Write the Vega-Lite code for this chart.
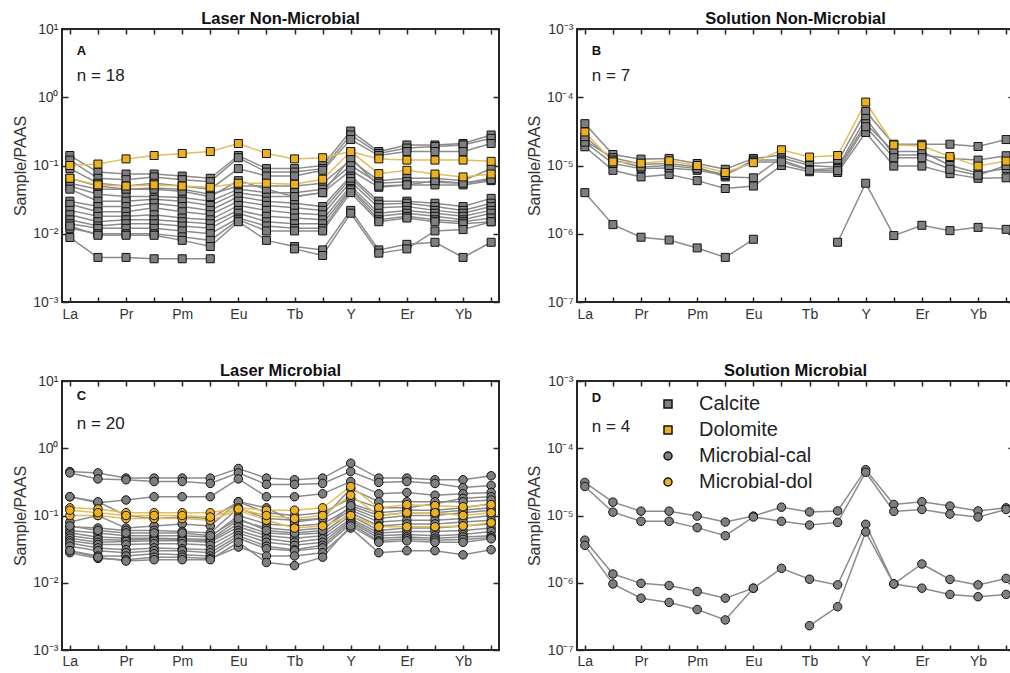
{
"$schema": "https://vega.github.io/schema/vega-lite/v6.json",
"padding": {"left": 11, "top": 9, "right": 0, "bottom": 0},
"spacing": {"row": 39, "column": 24},
"resolve": {"legend": {"fill": "independent", "shape": "independent"}},
"config": {
  "font": "Liberation Sans",
  "view": {"stroke": "#262626", "strokeWidth": 2},
  "axis": {"grid": false, "domain": false, "tickColor": "#262626", "tickWidth": 1.5, "labelFontSize": 14, "labelColor": "#333333", "titleFontSize": 16, "titleFontWeight": "normal", "titleColor": "#333333"},
  "title": {"fontSize": 16.5, "fontWeight": "bold", "offset": -5, "color": "#111111"},
  "legend": {"labelFontSize": 20, "labelColor": "#222222", "symbolSize": 64, "rowPadding": 6, "labelOffset": 21}
},
"datasets": {
"series": [
{"s":"a1","p":"A","m":"Calcite"},{"s":"a2","p":"A","m":"Calcite"},{"s":"a3","p":"A","m":"Calcite"},{"s":"a4","p":"A","m":"Calcite"},{"s":"a5","p":"A","m":"Calcite"},{"s":"a6","p":"A","m":"Calcite"},{"s":"a7","p":"A","m":"Calcite"},{"s":"a8","p":"A","m":"Calcite"},{"s":"a9","p":"A","m":"Calcite"},{"s":"a10","p":"A","m":"Calcite"},{"s":"a11","p":"A","m":"Calcite"},{"s":"a12","p":"A","m":"Calcite"},{"s":"a13","p":"A","m":"Calcite"},{"s":"a14","p":"A","m":"Calcite"},{"s":"a15","p":"A","m":"Calcite"},{"s":"a16","p":"A","m":"Calcite"},{"s":"ad1","p":"A","m":"Dolomite"},{"s":"ad2","p":"A","m":"Dolomite"},
{"s":"b1","p":"B","m":"Calcite"},{"s":"b2","p":"B","m":"Calcite"},{"s":"b3","p":"B","m":"Calcite"},{"s":"b4","p":"B","m":"Calcite"},{"s":"b5","p":"B","m":"Calcite"},{"s":"b6","p":"B","m":"Calcite"},{"s":"bd1","p":"B","m":"Dolomite"},
{"s":"c1","p":"C","m":"Microbial-cal"},{"s":"c2","p":"C","m":"Microbial-cal"},{"s":"c3","p":"C","m":"Microbial-cal"},{"s":"c4","p":"C","m":"Microbial-cal"},{"s":"c5","p":"C","m":"Microbial-cal"},{"s":"c6","p":"C","m":"Microbial-cal"},{"s":"c7","p":"C","m":"Microbial-cal"},{"s":"c8","p":"C","m":"Microbial-cal"},{"s":"c9","p":"C","m":"Microbial-cal"},{"s":"c10","p":"C","m":"Microbial-cal"},{"s":"c11","p":"C","m":"Microbial-cal"},{"s":"c12","p":"C","m":"Microbial-cal"},{"s":"c13","p":"C","m":"Microbial-cal"},{"s":"c14","p":"C","m":"Microbial-cal"},{"s":"c15","p":"C","m":"Microbial-cal"},{"s":"c16","p":"C","m":"Microbial-cal"},{"s":"c17","p":"C","m":"Microbial-cal"},{"s":"cd1","p":"C","m":"Microbial-dol"},{"s":"cd2","p":"C","m":"Microbial-dol"},{"s":"cd3","p":"C","m":"Microbial-dol"},
{"s":"d1","p":"D","m":"Microbial-cal"},{"s":"d2","p":"D","m":"Microbial-cal"},{"s":"d3","p":"D","m":"Microbial-cal"},{"s":"d4","p":"D","m":"Microbial-cal"}
],
"pts": [
{"s":"a1","e":"La","v":0.14},{"s":"a1","e":"Ce","v":0.08},{"s":"a1","e":"Pr","v":0.075},{"s":"a1","e":"Nd","v":0.075},{"s":"a1","e":"Pm","v":0.07},{"s":"a1","e":"Sm","v":0.065},{"s":"a1","e":"Eu","v":0.14},{"s":"a1","e":"Gd","v":0.09},{"s":"a1","e":"Tb","v":0.09},{"s":"a1","e":"Dy","v":0.1},{"s":"a1","e":"Y","v":0.32},{"s":"a1","e":"Ho","v":0.16},{"s":"a1","e":"Er","v":0.2},{"s":"a1","e":"Tm","v":0.2},{"s":"a1","e":"Yb","v":0.21},{"s":"a1","e":"Lu","v":0.28},
{"s":"a2","e":"La","v":0.12},{"s":"a2","e":"Ce","v":0.065},{"s":"a2","e":"Pr","v":0.062},{"s":"a2","e":"Nd","v":0.068},{"s":"a2","e":"Pm","v":0.062},{"s":"a2","e":"Sm","v":0.058},{"s":"a2","e":"Eu","v":0.13},{"s":"a2","e":"Gd","v":0.08},{"s":"a2","e":"Tb","v":0.08},{"s":"a2","e":"Dy","v":0.09},{"s":"a2","e":"Y","v":0.28},{"s":"a2","e":"Ho","v":0.15},{"s":"a2","e":"Er","v":0.18},{"s":"a2","e":"Tm","v":0.19},{"s":"a2","e":"Yb","v":0.2},{"s":"a2","e":"Lu","v":0.25},
{"s":"a3","e":"La","v":0.09},{"s":"a3","e":"Ce","v":0.055},{"s":"a3","e":"Pr","v":0.05},{"s":"a3","e":"Nd","v":0.055},{"s":"a3","e":"Pm","v":0.05},{"s":"a3","e":"Sm","v":0.045},{"s":"a3","e":"Eu","v":0.09},{"s":"a3","e":"Gd","v":0.07},{"s":"a3","e":"Tb","v":0.07},{"s":"a3","e":"Dy","v":0.085},{"s":"a3","e":"Y","v":0.24},{"s":"a3","e":"Ho","v":0.14},{"s":"a3","e":"Er","v":0.16},{"s":"a3","e":"Tm","v":0.16},{"s":"a3","e":"Yb","v":0.16},{"s":"a3","e":"Lu","v":0.21},
{"s":"a4","e":"La","v":0.055},{"s":"a4","e":"Ce","v":0.045},{"s":"a4","e":"Pr","v":0.045},{"s":"a4","e":"Nd","v":0.047},{"s":"a4","e":"Pm","v":0.045},{"s":"a4","e":"Sm","v":0.038},{"s":"a4","e":"Eu","v":0.05},{"s":"a4","e":"Gd","v":0.05},{"s":"a4","e":"Tb","v":0.05},{"s":"a4","e":"Dy","v":0.055},{"s":"a4","e":"Y","v":0.12},{"s":"a4","e":"Ho","v":0.06},{"s":"a4","e":"Er","v":0.065},{"s":"a4","e":"Tm","v":0.065},{"s":"a4","e":"Yb","v":0.06},{"s":"a4","e":"Lu","v":0.09},
{"s":"a5","e":"La","v":0.05},{"s":"a5","e":"Ce","v":0.038},{"s":"a5","e":"Pr","v":0.035},{"s":"a5","e":"Nd","v":0.035},{"s":"a5","e":"Pm","v":0.034},{"s":"a5","e":"Sm","v":0.03},{"s":"a5","e":"Eu","v":0.045},{"s":"a5","e":"Gd","v":0.04},{"s":"a5","e":"Tb","v":0.04},{"s":"a5","e":"Dy","v":0.045},{"s":"a5","e":"Y","v":0.1},{"s":"a5","e":"Ho","v":0.055},{"s":"a5","e":"Er","v":0.058},{"s":"a5","e":"Tm","v":0.057},{"s":"a5","e":"Yb","v":0.055},{"s":"a5","e":"Lu","v":0.065},
{"s":"a6","e":"La","v":0.045},{"s":"a6","e":"Ce","v":0.03},{"s":"a6","e":"Pr","v":0.03},{"s":"a6","e":"Nd","v":0.032},{"s":"a6","e":"Pm","v":0.03},{"s":"a6","e":"Sm","v":0.026},{"s":"a6","e":"Eu","v":0.04},{"s":"a6","e":"Gd","v":0.035},{"s":"a6","e":"Tb","v":0.035},{"s":"a6","e":"Dy","v":0.04},{"s":"a6","e":"Y","v":0.085},{"s":"a6","e":"Ho","v":0.048},{"s":"a6","e":"Er","v":0.052},{"s":"a6","e":"Tm","v":0.052},{"s":"a6","e":"Yb","v":0.052},{"s":"a6","e":"Lu","v":0.06},
{"s":"a7","e":"La","v":0.03},{"s":"a7","e":"Ce","v":0.025},{"s":"a7","e":"Pr","v":0.025},{"s":"a7","e":"Nd","v":0.028},{"s":"a7","e":"Pm","v":0.025},{"s":"a7","e":"Sm","v":0.022},{"s":"a7","e":"Eu","v":0.035},{"s":"a7","e":"Gd","v":0.03},{"s":"a7","e":"Tb","v":0.028},{"s":"a7","e":"Dy","v":0.025},{"s":"a7","e":"Y","v":0.07},{"s":"a7","e":"Ho","v":0.03},{"s":"a7","e":"Er","v":0.03},{"s":"a7","e":"Tm","v":0.028},{"s":"a7","e":"Yb","v":0.025},{"s":"a7","e":"Lu","v":0.033},
{"s":"a8","e":"La","v":0.027},{"s":"a8","e":"Ce","v":0.021},{"s":"a8","e":"Pr","v":0.021},{"s":"a8","e":"Nd","v":0.024},{"s":"a8","e":"Pm","v":0.021},{"s":"a8","e":"Sm","v":0.019},{"s":"a8","e":"Eu","v":0.03},{"s":"a8","e":"Gd","v":0.026},{"s":"a8","e":"Tb","v":0.024},{"s":"a8","e":"Dy","v":0.022},{"s":"a8","e":"Y","v":0.065},{"s":"a8","e":"Ho","v":0.027},{"s":"a8","e":"Er","v":0.028},{"s":"a8","e":"Tm","v":0.025},{"s":"a8","e":"Yb","v":0.022},{"s":"a8","e":"Lu","v":0.028},
{"s":"a9","e":"La","v":0.022},{"s":"a9","e":"Ce","v":0.018},{"s":"a9","e":"Pr","v":0.018},{"s":"a9","e":"Nd","v":0.019},{"s":"a9","e":"Pm","v":0.017},{"s":"a9","e":"Sm","v":0.016},{"s":"a9","e":"Eu","v":0.026},{"s":"a9","e":"Gd","v":0.022},{"s":"a9","e":"Tb","v":0.02},{"s":"a9","e":"Dy","v":0.019},{"s":"a9","e":"Y","v":0.058},{"s":"a9","e":"Ho","v":0.024},{"s":"a9","e":"Er","v":0.025},{"s":"a9","e":"Tm","v":0.022},{"s":"a9","e":"Yb","v":0.02},{"s":"a9","e":"Lu","v":0.025},
{"s":"a10","e":"La","v":0.019},{"s":"a10","e":"Ce","v":0.015},{"s":"a10","e":"Pr","v":0.016},{"s":"a10","e":"Nd","v":0.016},{"s":"a10","e":"Pm","v":0.015},{"s":"a10","e":"Sm","v":0.014},{"s":"a10","e":"Eu","v":0.022},{"s":"a10","e":"Gd","v":0.018},{"s":"a10","e":"Tb","v":0.017},{"s":"a10","e":"Dy","v":0.016},{"s":"a10","e":"Y","v":0.05},{"s":"a10","e":"Ho","v":0.02},{"s":"a10","e":"Er","v":0.022},{"s":"a10","e":"Tm","v":0.02},{"s":"a10","e":"Yb","v":0.018},{"s":"a10","e":"Lu","v":0.022},
{"s":"a11","e":"La","v":0.016},{"s":"a11","e":"Ce","v":0.013},{"s":"a11","e":"Pr","v":0.014},{"s":"a11","e":"Nd","v":0.014},{"s":"a11","e":"Pm","v":0.013},{"s":"a11","e":"Sm","v":0.012},{"s":"a11","e":"Eu","v":0.02},{"s":"a11","e":"Gd","v":0.015},{"s":"a11","e":"Tb","v":0.014},{"s":"a11","e":"Dy","v":0.014},{"s":"a11","e":"Y","v":0.046},{"s":"a11","e":"Ho","v":0.018},{"s":"a11","e":"Er","v":0.02},{"s":"a11","e":"Tm","v":0.018},{"s":"a11","e":"Yb","v":0.016},{"s":"a11","e":"Lu","v":0.02},
{"s":"a12","e":"La","v":0.014},{"s":"a12","e":"Ce","v":0.012},{"s":"a12","e":"Pr","v":0.012},{"s":"a12","e":"Nd","v":0.012},{"s":"a12","e":"Pm","v":0.011},{"s":"a12","e":"Sm","v":0.01},{"s":"a12","e":"Eu","v":0.017},{"s":"a12","e":"Gd","v":0.013},{"s":"a12","e":"Tb","v":0.012},{"s":"a12","e":"Dy","v":0.012},{"s":"a12","e":"Y","v":0.044},{"s":"a12","e":"Ho","v":0.016},{"s":"a12","e":"Er","v":0.018},{"s":"a12","e":"Tm","v":0.016},{"s":"a12","e":"Yb","v":0.015},{"s":"a12","e":"Lu","v":0.017},
{"s":"a13","e":"La","v":0.012},{"s":"a13","e":"Ce","v":0.01},{"s":"a13","e":"Pr","v":0.01},{"s":"a13","e":"Nd","v":0.01},{"s":"a13","e":"Pm","v":0.009},{"s":"a13","e":"Sm","v":0.008},{"s":"a13","e":"Eu","v":0.016},{"s":"a13","e":"Gd","v":0.011},{"s":"a13","e":"Tb","v":0.011},{"s":"a13","e":"Dy","v":0.011},{"s":"a13","e":"Y","v":0.04},{"s":"a13","e":"Ho","v":0.015},{"s":"a13","e":"Er","v":0.017},{"s":"a13","e":"Tm","v":0.015},{"s":"a13","e":"Yb","v":0.014},{"s":"a13","e":"Lu","v":0.015},
{"s":"a14","e":"La","v":0.013},{"s":"a14","e":"Ce","v":0.0095},{"s":"a14","e":"Pr","v":0.0095},{"s":"a14","e":"Nd","v":0.0095},{"s":"a14","e":"Pm","v":0.008},{"s":"a14","e":"Sm","v":0.0065},{"s":"a14","e":"Eu","v":0.015},{"s":"a14","e":"Gd","v":0.008},{"s":"a14","e":"Tb","v":0.0065},{"s":"a14","e":"Dy","v":0.0058},{"s":"a14","e":"Y","v":0.022},{"s":"a14","e":"Ho","v":0.0058},{"s":"a14","e":"Er","v":0.007},{"s":"a14","e":"Tm","v":0.0075},{"s":"a14","e":"Yb","v":0.0045},{"s":"a14","e":"Lu","v":0.0075},
{"s":"a15","e":"La","v":0.0088},{"s":"a15","e":"Ce","v":0.0045},{"s":"a15","e":"Pr","v":0.0045},{"s":"a15","e":"Nd","v":0.0043},{"s":"a15","e":"Pm","v":0.0043},{"s":"a15","e":"Sm","v":0.0043},{"s":"a15","e":"Eu","v":null},{"s":"a15","e":"Gd","v":null},{"s":"a15","e":"Tb","v":0.006},{"s":"a15","e":"Dy","v":0.0048},{"s":"a15","e":"Y","v":0.02},{"s":"a15","e":"Ho","v":0.0052},{"s":"a15","e":"Er","v":0.006},{"s":"a15","e":"Tm","v":0.011},{"s":"a15","e":"Yb","v":0.0115},{"s":"a15","e":"Lu","v":0.015},
{"s":"a16","e":"La","v":0.065},{"s":"a16","e":"Ce","v":0.05},{"s":"a16","e":"Pr","v":0.045},{"s":"a16","e":"Nd","v":0.045},{"s":"a16","e":"Pm","v":0.042},{"s":"a16","e":"Sm","v":0.035},{"s":"a16","e":"Eu","v":0.06},{"s":"a16","e":"Gd","v":0.045},{"s":"a16","e":"Tb","v":0.035},{"s":"a16","e":"Dy","v":0.04},{"s":"a16","e":"Y","v":0.13},{"s":"a16","e":"Ho","v":0.05},{"s":"a16","e":"Er","v":0.052},{"s":"a16","e":"Tm","v":0.06},{"s":"a16","e":"Yb","v":0.055},{"s":"a16","e":"Lu","v":0.062},
{"s":"ad1","e":"La","v":0.1},{"s":"ad1","e":"Ce","v":0.105},{"s":"ad1","e":"Pr","v":0.125},{"s":"ad1","e":"Nd","v":0.14},{"s":"ad1","e":"Pm","v":0.15},{"s":"ad1","e":"Sm","v":0.16},{"s":"ad1","e":"Eu","v":0.21},{"s":"ad1","e":"Gd","v":0.15},{"s":"ad1","e":"Tb","v":0.125},{"s":"ad1","e":"Dy","v":0.13},{"s":"ad1","e":"Y","v":0.16},{"s":"ad1","e":"Ho","v":0.125},{"s":"ad1","e":"Er","v":0.12},{"s":"ad1","e":"Tm","v":0.12},{"s":"ad1","e":"Yb","v":0.12},{"s":"ad1","e":"Lu","v":0.115},
{"s":"ad2","e":"La","v":0.065},{"s":"ad2","e":"Ce","v":0.052},{"s":"ad2","e":"Pr","v":0.05},{"s":"ad2","e":"Nd","v":0.052},{"s":"ad2","e":"Pm","v":0.05},{"s":"ad2","e":"Sm","v":0.048},{"s":"ad2","e":"Eu","v":0.055},{"s":"ad2","e":"Gd","v":0.055},{"s":"ad2","e":"Tb","v":0.053},{"s":"ad2","e":"Dy","v":0.063},{"s":"ad2","e":"Y","v":0.16},{"s":"ad2","e":"Ho","v":0.076},{"s":"ad2","e":"Er","v":0.085},{"s":"ad2","e":"Tm","v":0.075},{"s":"ad2","e":"Yb","v":0.068},{"s":"ad2","e":"Lu","v":0.075},
{"s":"b1","e":"La","v":4.1e-5},{"s":"b1","e":"Ce","v":1.45e-5},{"s":"b1","e":"Pr","v":1.24e-5},{"s":"b1","e":"Nd","v":1.27e-5},{"s":"b1","e":"Pm","v":1.07e-5},{"s":"b1","e":"Sm","v":8.8e-6},{"s":"b1","e":"Eu","v":1.27e-5},{"s":"b1","e":"Gd","v":1.42e-5},{"s":"b1","e":"Tb","v":1.07e-5},{"s":"b1","e":"Dy","v":1.13e-5},{"s":"b1","e":"Y","v":6.2e-5},{"s":"b1","e":"Ho","v":2.05e-5},{"s":"b1","e":"Er","v":2.05e-5},{"s":"b1","e":"Tm","v":2.05e-5},{"s":"b1","e":"Yb","v":1.9e-5},{"s":"b1","e":"Lu","v":2.4e-5},
{"s":"b2","e":"La","v":2.3e-5},{"s":"b2","e":"Ce","v":1.3e-5},{"s":"b2","e":"Pr","v":1.04e-5},{"s":"b2","e":"Nd","v":1.07e-5},{"s":"b2","e":"Pm","v":9.5e-6},{"s":"b2","e":"Sm","v":6.8e-6},{"s":"b2","e":"Eu","v":6.6e-6},{"s":"b2","e":"Gd","v":1.3e-5},{"s":"b2","e":"Tb","v":1e-5},{"s":"b2","e":"Dy","v":9.4e-6},{"s":"b2","e":"Y","v":4.9e-5},{"s":"b2","e":"Ho","v":1.42e-5},{"s":"b2","e":"Er","v":1.42e-5},{"s":"b2","e":"Tm","v":1.27e-5},{"s":"b2","e":"Yb","v":1.2e-5},{"s":"b2","e":"Lu","v":1.39e-5},
{"s":"b3","e":"La","v":1.88e-5},{"s":"b3","e":"Ce","v":8.5e-6},{"s":"b3","e":"Pr","v":6.8e-6},{"s":"b3","e":"Nd","v":7.4e-6},{"s":"b3","e":"Pm","v":6e-6},{"s":"b3","e":"Sm","v":4.6e-6},{"s":"b3","e":"Eu","v":5e-6},{"s":"b3","e":"Gd","v":1e-5},{"s":"b3","e":"Tb","v":8.1e-6},{"s":"b3","e":"Dy","v":7.9e-6},{"s":"b3","e":"Y","v":3.05e-5},{"s":"b3","e":"Ho","v":9.8e-6},{"s":"b3","e":"Er","v":9.8e-6},{"s":"b3","e":"Tm","v":7.6e-6},{"s":"b3","e":"Yb","v":6.5e-6},{"s":"b3","e":"Lu","v":6.6e-6},
{"s":"b4","e":"La","v":2.2e-5},{"s":"b4","e":"Ce","v":1.07e-5},{"s":"b4","e":"Pr","v":9e-6},{"s":"b4","e":"Nd","v":9.2e-6},{"s":"b4","e":"Pm","v":8.5e-6},{"s":"b4","e":"Sm","v":7.2e-6},{"s":"b4","e":"Eu","v":1.2e-5},{"s":"b4","e":"Gd","v":1.2e-5},{"s":"b4","e":"Tb","v":8.7e-6},{"s":"b4","e":"Dy","v":9e-6},{"s":"b4","e":"Y","v":4.1e-5},{"s":"b4","e":"Ho","v":1.6e-5},{"s":"b4","e":"Er","v":1.6e-5},{"s":"b4","e":"Tm","v":1e-5},{"s":"b4","e":"Yb","v":7.8e-6},{"s":"b4","e":"Lu","v":9e-6},
{"s":"b5","e":"La","v":2.64e-5},{"s":"b5","e":"Ce","v":1.2e-5},{"s":"b5","e":"Pr","v":9.5e-6},{"s":"b5","e":"Nd","v":1e-5},{"s":"b5","e":"Pm","v":9e-6},{"s":"b5","e":"Sm","v":7.4e-6},{"s":"b5","e":"Eu","v":1.13e-5},{"s":"b5","e":"Gd","v":1.13e-5},{"s":"b5","e":"Tb","v":8.5e-6},{"s":"b5","e":"Dy","v":8.4e-6},{"s":"b5","e":"Y","v":3.7e-5},{"s":"b5","e":"Ho","v":1.3e-5},{"s":"b5","e":"Er","v":1.3e-5},{"s":"b5","e":"Tm","v":8.8e-6},{"s":"b5","e":"Yb","v":7.2e-6},{"s":"b5","e":"Lu","v":1e-5},
{"s":"b6","e":"La","v":4e-6},{"s":"b6","e":"Ce","v":1.36e-6},{"s":"b6","e":"Pr","v":8.9e-7},{"s":"b6","e":"Nd","v":8.1e-7},{"s":"b6","e":"Pm","v":6.2e-7},{"s":"b6","e":"Sm","v":4.5e-7},{"s":"b6","e":"Eu","v":8.3e-7},{"s":"b6","e":"Gd","v":null},{"s":"b6","e":"Tb","v":null},{"s":"b6","e":"Dy","v":7.5e-7},{"s":"b6","e":"Y","v":5.5e-6},{"s":"b6","e":"Ho","v":9.4e-7},{"s":"b6","e":"Er","v":1.33e-6},{"s":"b6","e":"Tm","v":1.11e-6},{"s":"b6","e":"Yb","v":1.24e-6},{"s":"b6","e":"Lu","v":1.16e-6},
{"s":"bd1","e":"La","v":3.1e-5},{"s":"bd1","e":"Ce","v":1.13e-5},{"s":"bd1","e":"Pr","v":1.08e-5},{"s":"bd1","e":"Nd","v":1.17e-5},{"s":"bd1","e":"Pm","v":1e-5},{"s":"bd1","e":"Sm","v":7.9e-6},{"s":"bd1","e":"Eu","v":1.1e-5},{"s":"bd1","e":"Gd","v":1.7e-5},{"s":"bd1","e":"Tb","v":1.33e-5},{"s":"bd1","e":"Dy","v":1.4e-5},{"s":"bd1","e":"Y","v":8.5e-5},{"s":"bd1","e":"Ho","v":2e-5},{"s":"bd1","e":"Er","v":1.95e-5},{"s":"bd1","e":"Tm","v":1.35e-5},{"s":"bd1","e":"Yb","v":9.8e-6},{"s":"bd1","e":"Lu","v":1.16e-5},
{"s":"c1","e":"La","v":0.45},{"s":"c1","e":"Ce","v":0.43},{"s":"c1","e":"Pr","v":0.36},{"s":"c1","e":"Nd","v":0.36},{"s":"c1","e":"Pm","v":0.36},{"s":"c1","e":"Sm","v":0.36},{"s":"c1","e":"Eu","v":0.5},{"s":"c1","e":"Gd","v":0.36},{"s":"c1","e":"Tb","v":0.34},{"s":"c1","e":"Dy","v":0.36},{"s":"c1","e":"Y","v":0.6},{"s":"c1","e":"Ho","v":0.36},{"s":"c1","e":"Er","v":0.36},{"s":"c1","e":"Tm","v":0.34},{"s":"c1","e":"Yb","v":0.34},{"s":"c1","e":"Lu","v":0.39},
{"s":"c2","e":"La","v":0.43},{"s":"c2","e":"Ce","v":0.35},{"s":"c2","e":"Pr","v":0.34},{"s":"c2","e":"Nd","v":0.32},{"s":"c2","e":"Pm","v":0.32},{"s":"c2","e":"Sm","v":0.3},{"s":"c2","e":"Eu","v":0.43},{"s":"c2","e":"Gd","v":0.29},{"s":"c2","e":"Tb","v":0.29},{"s":"c2","e":"Dy","v":0.3},{"s":"c2","e":"Y","v":0.45},{"s":"c2","e":"Ho","v":0.31},{"s":"c2","e":"Er","v":0.32},{"s":"c2","e":"Tm","v":0.3},{"s":"c2","e":"Yb","v":0.26},{"s":"c2","e":"Lu","v":0.28},
{"s":"c3","e":"La","v":0.19},{"s":"c3","e":"Ce","v":0.155},{"s":"c3","e":"Pr","v":0.17},{"s":"c3","e":"Nd","v":0.19},{"s":"c3","e":"Pm","v":0.19},{"s":"c3","e":"Sm","v":0.19},{"s":"c3","e":"Eu","v":0.35},{"s":"c3","e":"Gd","v":0.19},{"s":"c3","e":"Tb","v":0.19},{"s":"c3","e":"Dy","v":0.21},{"s":"c3","e":"Y","v":0.32},{"s":"c3","e":"Ho","v":0.21},{"s":"c3","e":"Er","v":0.22},{"s":"c3","e":"Tm","v":0.2},{"s":"c3","e":"Yb","v":0.21},{"s":"c3","e":"Lu","v":0.22},
{"s":"c4","e":"La","v":0.08},{"s":"c4","e":"Ce","v":0.1},{"s":"c4","e":"Pr","v":0.065},{"s":"c4","e":"Nd","v":0.07},{"s":"c4","e":"Pm","v":0.075},{"s":"c4","e":"Sm","v":0.07},{"s":"c4","e":"Eu","v":0.16},{"s":"c4","e":"Gd","v":0.11},{"s":"c4","e":"Tb","v":0.1},{"s":"c4","e":"Dy","v":0.11},{"s":"c4","e":"Y","v":0.18},{"s":"c4","e":"Ho","v":0.13},{"s":"c4","e":"Er","v":0.13},{"s":"c4","e":"Tm","v":0.15},{"s":"c4","e":"Yb","v":0.18},{"s":"c4","e":"Lu","v":0.19},
{"s":"c5","e":"La","v":0.068},{"s":"c5","e":"Ce","v":0.065},{"s":"c5","e":"Pr","v":0.06},{"s":"c5","e":"Nd","v":0.06},{"s":"c5","e":"Pm","v":0.058},{"s":"c5","e":"Sm","v":0.055},{"s":"c5","e":"Eu","v":0.13},{"s":"c5","e":"Gd","v":0.09},{"s":"c5","e":"Tb","v":0.085},{"s":"c5","e":"Dy","v":0.09},{"s":"c5","e":"Y","v":0.15},{"s":"c5","e":"Ho","v":0.11},{"s":"c5","e":"Er","v":0.12},{"s":"c5","e":"Tm","v":0.12},{"s":"c5","e":"Yb","v":0.13},{"s":"c5","e":"Lu","v":0.15},
{"s":"c6","e":"La","v":0.06},{"s":"c6","e":"Ce","v":0.055},{"s":"c6","e":"Pr","v":0.05},{"s":"c6","e":"Nd","v":0.05},{"s":"c6","e":"Pm","v":0.05},{"s":"c6","e":"Sm","v":0.048},{"s":"c6","e":"Eu","v":0.1},{"s":"c6","e":"Gd","v":0.075},{"s":"c6","e":"Tb","v":0.07},{"s":"c6","e":"Dy","v":0.075},{"s":"c6","e":"Y","v":0.13},{"s":"c6","e":"Ho","v":0.09},{"s":"c6","e":"Er","v":0.1},{"s":"c6","e":"Tm","v":0.1},{"s":"c6","e":"Yb","v":0.11},{"s":"c6","e":"Lu","v":0.12},
{"s":"c7","e":"La","v":0.055},{"s":"c7","e":"Ce","v":0.048},{"s":"c7","e":"Pr","v":0.046},{"s":"c7","e":"Nd","v":0.046},{"s":"c7","e":"Pm","v":0.045},{"s":"c7","e":"Sm","v":0.044},{"s":"c7","e":"Eu","v":0.085},{"s":"c7","e":"Gd","v":0.065},{"s":"c7","e":"Tb","v":0.06},{"s":"c7","e":"Dy","v":0.065},{"s":"c7","e":"Y","v":0.12},{"s":"c7","e":"Ho","v":0.08},{"s":"c7","e":"Er","v":0.085},{"s":"c7","e":"Tm","v":0.085},{"s":"c7","e":"Yb","v":0.09},{"s":"c7","e":"Lu","v":0.1},
{"s":"c8","e":"La","v":0.05},{"s":"c8","e":"Ce","v":0.044},{"s":"c8","e":"Pr","v":0.043},{"s":"c8","e":"Nd","v":0.045},{"s":"c8","e":"Pm","v":0.044},{"s":"c8","e":"Sm","v":0.042},{"s":"c8","e":"Eu","v":0.075},{"s":"c8","e":"Gd","v":0.055},{"s":"c8","e":"Tb","v":0.052},{"s":"c8","e":"Dy","v":0.055},{"s":"c8","e":"Y","v":0.11},{"s":"c8","e":"Ho","v":0.07},{"s":"c8","e":"Er","v":0.075},{"s":"c8","e":"Tm","v":0.075},{"s":"c8","e":"Yb","v":0.08},{"s":"c8","e":"Lu","v":0.085},
{"s":"c9","e":"La","v":0.046},{"s":"c9","e":"Ce","v":0.04},{"s":"c9","e":"Pr","v":0.041},{"s":"c9","e":"Nd","v":0.042},{"s":"c9","e":"Pm","v":0.042},{"s":"c9","e":"Sm","v":0.04},{"s":"c9","e":"Eu","v":0.068},{"s":"c9","e":"Gd","v":0.05},{"s":"c9","e":"Tb","v":0.046},{"s":"c9","e":"Dy","v":0.05},{"s":"c9","e":"Y","v":0.1},{"s":"c9","e":"Ho","v":0.06},{"s":"c9","e":"Er","v":0.065},{"s":"c9","e":"Tm","v":0.065},{"s":"c9","e":"Yb","v":0.07},{"s":"c9","e":"Lu","v":0.075},
{"s":"c10","e":"La","v":0.042},{"s":"c10","e":"Ce","v":0.037},{"s":"c10","e":"Pr","v":0.037},{"s":"c10","e":"Nd","v":0.038},{"s":"c10","e":"Pm","v":0.038},{"s":"c10","e":"Sm","v":0.036},{"s":"c10","e":"Eu","v":0.06},{"s":"c10","e":"Gd","v":0.045},{"s":"c10","e":"Tb","v":0.04},{"s":"c10","e":"Dy","v":0.045},{"s":"c10","e":"Y","v":0.09},{"s":"c10","e":"Ho","v":0.055},{"s":"c10","e":"Er","v":0.058},{"s":"c10","e":"Tm","v":0.058},{"s":"c10","e":"Yb","v":0.06},{"s":"c10","e":"Lu","v":0.065},
{"s":"c11","e":"La","v":0.039},{"s":"c11","e":"Ce","v":0.033},{"s":"c11","e":"Pr","v":0.031},{"s":"c11","e":"Nd","v":0.033},{"s":"c11","e":"Pm","v":0.032},{"s":"c11","e":"Sm","v":0.031},{"s":"c11","e":"Eu","v":0.055},{"s":"c11","e":"Gd","v":0.04},{"s":"c11","e":"Tb","v":0.036},{"s":"c11","e":"Dy","v":0.04},{"s":"c11","e":"Y","v":0.085},{"s":"c11","e":"Ho","v":0.05},{"s":"c11","e":"Er","v":0.052},{"s":"c11","e":"Tm","v":0.05},{"s":"c11","e":"Yb","v":0.052},{"s":"c11","e":"Lu","v":0.058},
{"s":"c12","e":"La","v":0.035},{"s":"c12","e":"Ce","v":0.03},{"s":"c12","e":"Pr","v":0.028},{"s":"c12","e":"Nd","v":0.03},{"s":"c12","e":"Pm","v":0.03},{"s":"c12","e":"Sm","v":0.028},{"s":"c12","e":"Eu","v":0.05},{"s":"c12","e":"Gd","v":0.035},{"s":"c12","e":"Tb","v":0.031},{"s":"c12","e":"Dy","v":0.036},{"s":"c12","e":"Y","v":0.08},{"s":"c12","e":"Ho","v":0.046},{"s":"c12","e":"Er","v":0.048},{"s":"c12","e":"Tm","v":0.046},{"s":"c12","e":"Yb","v":0.048},{"s":"c12","e":"Lu","v":0.05},
{"s":"c13","e":"La","v":0.03},{"s":"c13","e":"Ce","v":0.025},{"s":"c13","e":"Pr","v":0.025},{"s":"c13","e":"Nd","v":0.027},{"s":"c13","e":"Pm","v":0.026},{"s":"c13","e":"Sm","v":0.025},{"s":"c13","e":"Eu","v":0.046},{"s":"c13","e":"Gd","v":0.032},{"s":"c13","e":"Tb","v":0.03},{"s":"c13","e":"Dy","v":0.033},{"s":"c13","e":"Y","v":0.075},{"s":"c13","e":"Ho","v":0.042},{"s":"c13","e":"Er","v":0.045},{"s":"c13","e":"Tm","v":0.043},{"s":"c13","e":"Yb","v":0.044},{"s":"c13","e":"Lu","v":0.047},
{"s":"c14","e":"La","v":0.028},{"s":"c14","e":"Ce","v":0.023},{"s":"c14","e":"Pr","v":0.022},{"s":"c14","e":"Nd","v":0.024},{"s":"c14","e":"Pm","v":0.024},{"s":"c14","e":"Sm","v":0.023},{"s":"c14","e":"Eu","v":0.034},{"s":"c14","e":"Gd","v":0.025},{"s":"c14","e":"Tb","v":0.025},{"s":"c14","e":"Dy","v":0.028},{"s":"c14","e":"Y","v":0.065},{"s":"c14","e":"Ho","v":0.028},{"s":"c14","e":"Er","v":0.03},{"s":"c14","e":"Tm","v":0.03},{"s":"c14","e":"Yb","v":0.026},{"s":"c14","e":"Lu","v":0.031},
{"s":"c15","e":"La","v":0.03},{"s":"c15","e":"Ce","v":0.024},{"s":"c15","e":"Pr","v":0.021},{"s":"c15","e":"Nd","v":0.022},{"s":"c15","e":"Pm","v":0.022},{"s":"c15","e":"Sm","v":0.022},{"s":"c15","e":"Eu","v":0.04},{"s":"c15","e":"Gd","v":0.02},{"s":"c15","e":"Tb","v":0.018},{"s":"c15","e":"Dy","v":0.024},{"s":"c15","e":"Y","v":0.07},{"s":"c15","e":"Ho","v":0.04},{"s":"c15","e":"Er","v":0.042},{"s":"c15","e":"Tm","v":0.04},{"s":"c15","e":"Yb","v":0.04},{"s":"c15","e":"Lu","v":0.045},
{"s":"c16","e":"La","v":0.07},{"s":"c16","e":"Ce","v":0.06},{"s":"c16","e":"Pr","v":0.055},{"s":"c16","e":"Nd","v":0.055},{"s":"c16","e":"Pm","v":0.055},{"s":"c16","e":"Sm","v":0.05},{"s":"c16","e":"Eu","v":0.09},{"s":"c16","e":"Gd","v":0.06},{"s":"c16","e":"Tb","v":0.055},{"s":"c16","e":"Dy","v":0.06},{"s":"c16","e":"Y","v":0.14},{"s":"c16","e":"Ho","v":0.1},{"s":"c16","e":"Er","v":0.11},{"s":"c16","e":"Tm","v":0.11},{"s":"c16","e":"Yb","v":0.12},{"s":"c16","e":"Lu","v":0.13},
{"s":"c17","e":"La","v":0.19},{"s":"c17","e":"Ce","v":0.16},{"s":"c17","e":"Pr","v":0.1},{"s":"c17","e":"Nd","v":0.09},{"s":"c17","e":"Pm","v":0.095},{"s":"c17","e":"Sm","v":0.09},{"s":"c17","e":"Eu","v":0.16},{"s":"c17","e":"Gd","v":0.13},{"s":"c17","e":"Tb","v":0.08},{"s":"c17","e":"Dy","v":0.09},{"s":"c17","e":"Y","v":0.25},{"s":"c17","e":"Ho","v":0.16},{"s":"c17","e":"Er","v":0.16},{"s":"c17","e":"Tm","v":0.16},{"s":"c17","e":"Yb","v":0.16},{"s":"c17","e":"Lu","v":0.17},
{"s":"cd1","e":"La","v":0.13},{"s":"cd1","e":"Ce","v":0.125},{"s":"cd1","e":"Pr","v":0.11},{"s":"cd1","e":"Nd","v":0.11},{"s":"cd1","e":"Pm","v":0.11},{"s":"cd1","e":"Sm","v":0.11},{"s":"cd1","e":"Eu","v":0.13},{"s":"cd1","e":"Gd","v":0.12},{"s":"cd1","e":"Tb","v":0.12},{"s":"cd1","e":"Dy","v":0.13},{"s":"cd1","e":"Y","v":0.27},{"s":"cd1","e":"Ho","v":0.13},{"s":"cd1","e":"Er","v":0.145},{"s":"cd1","e":"Tm","v":0.14},{"s":"cd1","e":"Yb","v":0.135},{"s":"cd1","e":"Lu","v":0.145},
{"s":"cd2","e":"La","v":0.1},{"s":"cd2","e":"Ce","v":0.1},{"s":"cd2","e":"Pr","v":0.09},{"s":"cd2","e":"Nd","v":0.09},{"s":"cd2","e":"Pm","v":0.09},{"s":"cd2","e":"Sm","v":0.085},{"s":"cd2","e":"Eu","v":0.12},{"s":"cd2","e":"Gd","v":0.085},{"s":"cd2","e":"Tb","v":0.065},{"s":"cd2","e":"Dy","v":0.07},{"s":"cd2","e":"Y","v":0.1},{"s":"cd2","e":"Ho","v":0.068},{"s":"cd2","e":"Er","v":0.068},{"s":"cd2","e":"Tm","v":0.068},{"s":"cd2","e":"Yb","v":0.07},{"s":"cd2","e":"Lu","v":0.078},
{"s":"cd3","e":"La","v":0.12},{"s":"cd3","e":"Ce","v":0.11},{"s":"cd3","e":"Pr","v":0.1},{"s":"cd3","e":"Nd","v":0.1},{"s":"cd3","e":"Pm","v":0.1},{"s":"cd3","e":"Sm","v":0.095},{"s":"cd3","e":"Eu","v":0.125},{"s":"cd3","e":"Gd","v":0.1},{"s":"cd3","e":"Tb","v":0.09},{"s":"cd3","e":"Dy","v":0.1},{"s":"cd3","e":"Y","v":0.2},{"s":"cd3","e":"Ho","v":0.1},{"s":"cd3","e":"Er","v":0.11},{"s":"cd3","e":"Tm","v":0.11},{"s":"cd3","e":"Yb","v":0.1},{"s":"cd3","e":"Lu","v":0.11},
{"s":"d1","e":"La","v":3.1e-5},{"s":"d1","e":"Ce","v":1.58e-5},{"s":"d1","e":"Pr","v":1.16e-5},{"s":"d1","e":"Nd","v":1.16e-5},{"s":"d1","e":"Pm","v":9.8e-6},{"s":"d1","e":"Sm","v":8e-6},{"s":"d1","e":"Eu","v":9.8e-6},{"s":"d1","e":"Gd","v":1.33e-5},{"s":"d1","e":"Tb","v":1.13e-5},{"s":"d1","e":"Dy","v":1.17e-5},{"s":"d1","e":"Y","v":4.8e-5},{"s":"d1","e":"Ho","v":1.46e-5},{"s":"d1","e":"Er","v":1.6e-5},{"s":"d1","e":"Tm","v":1.38e-5},{"s":"d1","e":"Yb","v":1.17e-5},{"s":"d1","e":"Lu","v":1.3e-5},
{"s":"d2","e":"La","v":2.7e-5},{"s":"d2","e":"Ce","v":1.12e-5},{"s":"d2","e":"Pr","v":8.2e-6},{"s":"d2","e":"Nd","v":8.2e-6},{"s":"d2","e":"Pm","v":6.6e-6},{"s":"d2","e":"Sm","v":5e-6},{"s":"d2","e":"Eu","v":9.5e-6},{"s":"d2","e":"Gd","v":8.2e-6},{"s":"d2","e":"Tb","v":7.2e-6},{"s":"d2","e":"Dy","v":7.9e-6},{"s":"d2","e":"Y","v":4.4e-5},{"s":"d2","e":"Ho","v":1.15e-5},{"s":"d2","e":"Er","v":1.23e-5},{"s":"d2","e":"Tm","v":1.05e-5},{"s":"d2","e":"Yb","v":9.5e-6},{"s":"d2","e":"Lu","v":1.23e-5},
{"s":"d3","e":"La","v":4.3e-6},{"s":"d3","e":"Ce","v":1.35e-6},{"s":"d3","e":"Pr","v":9.8e-7},{"s":"d3","e":"Nd","v":9.1e-7},{"s":"d3","e":"Pm","v":7.4e-7},{"s":"d3","e":"Sm","v":5.9e-7},{"s":"d3","e":"Eu","v":8.3e-7},{"s":"d3","e":"Gd","v":1.64e-6},{"s":"d3","e":"Tb","v":1.13e-6},{"s":"d3","e":"Dy","v":9.3e-7},{"s":"d3","e":"Y","v":7.4e-6},{"s":"d3","e":"Ho","v":9.6e-7},{"s":"d3","e":"Er","v":1.9e-6},{"s":"d3","e":"Tm","v":1.12e-6},{"s":"d3","e":"Yb","v":9.3e-7},{"s":"d3","e":"Lu","v":1.16e-6},
{"s":"d4","e":"La","v":3.6e-6},{"s":"d4","e":"Ce","v":9.6e-7},{"s":"d4","e":"Pr","v":5.9e-7},{"s":"d4","e":"Nd","v":5.1e-7},{"s":"d4","e":"Pm","v":4e-7},{"s":"d4","e":"Sm","v":2.8e-7},{"s":"d4","e":"Eu","v":8.3e-7},{"s":"d4","e":"Gd","v":null},{"s":"d4","e":"Tb","v":2.3e-7},{"s":"d4","e":"Dy","v":4.4e-7},{"s":"d4","e":"Y","v":5.7e-6},{"s":"d4","e":"Ho","v":9.6e-7},{"s":"d4","e":"Er","v":8.3e-7},{"s":"d4","e":"Tm","v":6.7e-7},{"s":"d4","e":"Yb","v":6.2e-7},{"s":"d4","e":"Lu","v":6.7e-7}
]
},
"data": {"name": "pts"},
"transform": [{"lookup": "s", "from": {"data": {"name": "series"}, "key": "s", "fields": ["p", "m"]}}],
"columns": 2,
"concat": [
{
 "title": "Laser Non-Microbial", "width": 437, "height": 273,
 "layer": [
  {"transform": [{"filter": "datum.p === 'A'"}],
   "mark": {"type": "line", "strokeWidth": 1.5},
   "encoding": {
    "x": {"field": "e", "type": "ordinal", "scale": {"type": "point", "domain": ["La","Ce","Pr","Nd","Pm","Sm","Eu","Gd","Tb","Dy","Y","Ho","Er","Tm","Yb","Lu"], "padding": 0.28}, "axis": {"orient": "bottom", "title": null, "labelAngle": 0, "tickSize": -5, "labelPadding": 10, "labelExpr": "indexof(['La','Pr','Pm','Eu','Tb','Y','Er','Yb'], datum.value) >= 0 ? datum.value : ''"}},
    "y": {"field": "v", "type": "quantitative", "scale": {"type": "log", "domain": [0.001, 10]}, "axis": {"orient": "left", "title": "Sample/PAAS", "values": [0.001, 0.01, 0.1, 1, 10], "tickSize": -6, "labelPadding": 10, "titlePadding": 4, "labelExpr": "'10' + (datum.value < 1 ? '⁻' : '') + ['⁰','¹','²','³','⁴','⁵','⁶','⁷','⁸','⁹'][abs(round(log(datum.value) / LN10))]"}},
    "detail": {"field": "s"},
    "order": {"value": null},
    "stroke": {"field": "m", "type": "nominal", "scale": {"domain": ["Calcite","Dolomite","Microbial-cal","Microbial-dol"], "range": ["#8c8c8c","#e0bf5c","#8c8c8c","#e0bf5c"]}, "legend": null}
   }},
  {"transform": [{"filter": "datum.p === 'A'"}],
   "mark": {"type": "point", "filled": true, "size": 64, "stroke": "#111111", "strokeWidth": 1, "opacity": 1},
   "encoding": {
    "x": {"field": "e", "type": "ordinal", "axis": {"orient": "top", "title": null, "labels": false, "tickSize": -5, "minExtent": 0}},
    "y": {"field": "v", "type": "quantitative", "axis": {"orient": "right", "title": null, "labels": false, "values": [0.001, 0.01, 0.1, 1, 10], "tickSize": -6, "minExtent": 0}},
    "fill": {"field": "m", "type": "nominal", "scale": {"domain": ["Calcite","Dolomite","Microbial-cal","Microbial-dol"], "range": ["#7f7f7f","#edb120","#7f7f7f","#edb120"]}, "legend": null},
    "shape": {"field": "m", "type": "nominal", "scale": {"domain": ["Calcite","Dolomite","Microbial-cal","Microbial-dol"], "range": ["square","square","circle","circle"]}, "legend": null}
   }},
  {"data": {"values": [{"t": "A"}]}, "mark": {"type": "text", "align": "left", "baseline": "middle", "dx": 7, "fontSize": 13, "fontWeight": "bold", "color": "#111111"},
   "encoding": {"x": {"datum": "La", "type": "ordinal", "axis": null}, "y": {"datum": 4.8, "type": "quantitative", "axis": null}, "text": {"field": "t"}}},
  {"data": {"values": [{"t": "n = 18"}]}, "mark": {"type": "text", "align": "left", "baseline": "middle", "dx": 7, "fontSize": 17, "color": "#222222"},
   "encoding": {"x": {"datum": "La", "type": "ordinal", "axis": null}, "y": {"datum": 2.05, "type": "quantitative", "axis": null}, "text": {"field": "t"}}}
 ],
 "resolve": {"axis": {"x": "independent", "y": "independent"}}
},
{
 "title": "Solution Non-Microbial", "width": 437, "height": 273,
 "layer": [
  {"transform": [{"filter": "datum.p === 'B'"}],
   "mark": {"type": "line", "strokeWidth": 1.5},
   "encoding": {
    "x": {"field": "e", "type": "ordinal", "scale": {"type": "point", "domain": ["La","Ce","Pr","Nd","Pm","Sm","Eu","Gd","Tb","Dy","Y","Ho","Er","Tm","Yb","Lu"], "padding": 0.28}, "axis": {"orient": "bottom", "title": null, "labelAngle": 0, "tickSize": -5, "labelPadding": 10, "labelExpr": "indexof(['La','Pr','Pm','Eu','Tb','Y','Er','Yb'], datum.value) >= 0 ? datum.value : ''"}},
    "y": {"field": "v", "type": "quantitative", "scale": {"type": "log", "domain": [1e-7, 0.001]}, "axis": {"orient": "left", "title": "Sample/PAAS", "values": [1e-7, 1e-6, 1e-5, 1e-4, 0.001], "tickSize": -6, "labelPadding": 10, "titlePadding": 4, "labelExpr": "'10' + (datum.value < 1 ? '⁻' : '') + ['⁰','¹','²','³','⁴','⁵','⁶','⁷','⁸','⁹'][abs(round(log(datum.value) / LN10))]"}},
    "detail": {"field": "s"},
    "order": {"value": null},
    "stroke": {"field": "m", "type": "nominal", "scale": {"domain": ["Calcite","Dolomite","Microbial-cal","Microbial-dol"], "range": ["#8c8c8c","#e0bf5c","#8c8c8c","#e0bf5c"]}, "legend": null}
   }},
  {"transform": [{"filter": "datum.p === 'B'"}],
   "mark": {"type": "point", "filled": true, "size": 64, "stroke": "#111111", "strokeWidth": 1, "opacity": 1},
   "encoding": {
    "x": {"field": "e", "type": "ordinal", "axis": {"orient": "top", "title": null, "labels": false, "tickSize": -5, "minExtent": 0}},
    "y": {"field": "v", "type": "quantitative", "axis": {"orient": "right", "title": null, "labels": false, "values": [1e-7, 1e-6, 1e-5, 1e-4, 0.001], "tickSize": -6, "minExtent": 0}},
    "fill": {"field": "m", "type": "nominal", "scale": {"domain": ["Calcite","Dolomite","Microbial-cal","Microbial-dol"], "range": ["#7f7f7f","#edb120","#7f7f7f","#edb120"]}, "legend": null},
    "shape": {"field": "m", "type": "nominal", "scale": {"domain": ["Calcite","Dolomite","Microbial-cal","Microbial-dol"], "range": ["square","square","circle","circle"]}, "legend": null}
   }},
  {"data": {"values": [{"t": "B"}]}, "mark": {"type": "text", "align": "left", "baseline": "middle", "dx": 7, "fontSize": 13, "fontWeight": "bold", "color": "#111111"},
   "encoding": {"x": {"datum": "La", "type": "ordinal", "axis": null}, "y": {"datum": 0.00048, "type": "quantitative", "axis": null}, "text": {"field": "t"}}},
  {"data": {"values": [{"t": "n = 7"}]}, "mark": {"type": "text", "align": "left", "baseline": "middle", "dx": 7, "fontSize": 17, "color": "#222222"},
   "encoding": {"x": {"datum": "La", "type": "ordinal", "axis": null}, "y": {"datum": 0.000205, "type": "quantitative", "axis": null}, "text": {"field": "t"}}}
 ],
 "resolve": {"axis": {"x": "independent", "y": "independent"}}
},
{
 "title": "Laser Microbial", "width": 437, "height": 269,
 "layer": [
  {"transform": [{"filter": "datum.p === 'C'"}],
   "mark": {"type": "line", "strokeWidth": 1.5},
   "encoding": {
    "x": {"field": "e", "type": "ordinal", "scale": {"type": "point", "domain": ["La","Ce","Pr","Nd","Pm","Sm","Eu","Gd","Tb","Dy","Y","Ho","Er","Tm","Yb","Lu"], "padding": 0.28}, "axis": {"orient": "bottom", "title": null, "labelAngle": 0, "tickSize": -5, "labelPadding": 9, "labelExpr": "indexof(['La','Pr','Pm','Eu','Tb','Y','Er','Yb'], datum.value) >= 0 ? datum.value : ''"}},
    "y": {"field": "v", "type": "quantitative", "scale": {"type": "log", "domain": [0.001, 10]}, "axis": {"orient": "left", "title": "Sample/PAAS", "values": [0.001, 0.01, 0.1, 1, 10], "tickSize": -6, "labelPadding": 10, "titlePadding": 4, "labelExpr": "'10' + (datum.value < 1 ? '⁻' : '') + ['⁰','¹','²','³','⁴','⁵','⁶','⁷','⁸','⁹'][abs(round(log(datum.value) / LN10))]"}},
    "detail": {"field": "s"},
    "order": {"value": null},
    "stroke": {"field": "m", "type": "nominal", "scale": {"domain": ["Calcite","Dolomite","Microbial-cal","Microbial-dol"], "range": ["#8c8c8c","#e0bf5c","#8c8c8c","#e0bf5c"]}, "legend": null}
   }},
  {"transform": [{"filter": "datum.p === 'C'"}],
   "mark": {"type": "point", "filled": true, "size": 72, "stroke": "#111111", "strokeWidth": 1, "opacity": 1},
   "encoding": {
    "x": {"field": "e", "type": "ordinal", "axis": {"orient": "top", "title": null, "labels": false, "tickSize": -5, "minExtent": 0}},
    "y": {"field": "v", "type": "quantitative", "axis": {"orient": "right", "title": null, "labels": false, "values": [0.001, 0.01, 0.1, 1, 10], "tickSize": -6, "minExtent": 0}},
    "fill": {"field": "m", "type": "nominal", "scale": {"domain": ["Calcite","Dolomite","Microbial-cal","Microbial-dol"], "range": ["#7f7f7f","#edb120","#7f7f7f","#edb120"]}, "legend": null},
    "shape": {"field": "m", "type": "nominal", "scale": {"domain": ["Calcite","Dolomite","Microbial-cal","Microbial-dol"], "range": ["square","square","circle","circle"]}, "legend": null}
   }},
  {"data": {"values": [{"t": "C"}]}, "mark": {"type": "text", "align": "left", "baseline": "middle", "dx": 7, "fontSize": 13, "fontWeight": "bold", "color": "#111111"},
   "encoding": {"x": {"datum": "La", "type": "ordinal", "axis": null}, "y": {"datum": 5.9, "type": "quantitative", "axis": null}, "text": {"field": "t"}}},
  {"data": {"values": [{"t": "n = 20"}]}, "mark": {"type": "text", "align": "left", "baseline": "middle", "dx": 7, "fontSize": 17, "color": "#222222"},
   "encoding": {"x": {"datum": "La", "type": "ordinal", "axis": null}, "y": {"datum": 2.28, "type": "quantitative", "axis": null}, "text": {"field": "t"}}}
 ],
 "resolve": {"axis": {"x": "independent", "y": "independent"}}
},
{
 "title": "Solution Microbial", "width": 437, "height": 269,
 "layer": [
  {"transform": [{"filter": "datum.p === 'D'"}],
   "mark": {"type": "line", "strokeWidth": 1.5},
   "encoding": {
    "x": {"field": "e", "type": "ordinal", "scale": {"type": "point", "domain": ["La","Ce","Pr","Nd","Pm","Sm","Eu","Gd","Tb","Dy","Y","Ho","Er","Tm","Yb","Lu"], "padding": 0.28}, "axis": {"orient": "bottom", "title": null, "labelAngle": 0, "tickSize": -5, "labelPadding": 9, "labelExpr": "indexof(['La','Pr','Pm','Eu','Tb','Y','Er','Yb'], datum.value) >= 0 ? datum.value : ''"}},
    "y": {"field": "v", "type": "quantitative", "scale": {"type": "log", "domain": [1e-7, 0.001]}, "axis": {"orient": "left", "title": "Sample/PAAS", "values": [1e-7, 1e-6, 1e-5, 1e-4, 0.001], "tickSize": -6, "labelPadding": 10, "titlePadding": 4, "labelExpr": "'10' + (datum.value < 1 ? '⁻' : '') + ['⁰','¹','²','³','⁴','⁵','⁶','⁷','⁸','⁹'][abs(round(log(datum.value) / LN10))]"}},
    "detail": {"field": "s"},
    "order": {"value": null},
    "stroke": {"field": "m", "type": "nominal", "scale": {"domain": ["Calcite","Dolomite","Microbial-cal","Microbial-dol"], "range": ["#8c8c8c","#e0bf5c","#8c8c8c","#e0bf5c"]}, "legend": null}
   }},
  {"transform": [{"filter": "datum.p === 'D'"}],
   "mark": {"type": "point", "filled": true, "size": 72, "stroke": "#111111", "strokeWidth": 1, "opacity": 1},
   "encoding": {
    "x": {"field": "e", "type": "ordinal", "axis": {"orient": "top", "title": null, "labels": false, "tickSize": -5, "minExtent": 0}},
    "y": {"field": "v", "type": "quantitative", "axis": {"orient": "right", "title": null, "labels": false, "values": [1e-7, 1e-6, 1e-5, 1e-4, 0.001], "tickSize": -6, "minExtent": 0}},
    "fill": {"field": "m", "type": "nominal", "scale": {"domain": ["Calcite","Dolomite","Microbial-cal","Microbial-dol"], "range": ["#7f7f7f","#edb120","#7f7f7f","#edb120"]}, "legend": {"orient": "none", "legendX": 81, "legendY": 13, "title": null, "encode": {"symbols": {"update": {"stroke": {"value": "#555555"}, "strokeWidth": {"value": 1}, "size": {"signal": "indexof(['Calcite','Dolomite'], datum.value) >= 0 ? 42 : 85"}}}}}},
    "shape": {"field": "m", "type": "nominal", "scale": {"domain": ["Calcite","Dolomite","Microbial-cal","Microbial-dol"], "range": ["square","square","circle","circle"]}, "legend": {"orient": "none", "legendX": 81, "legendY": 13, "title": null, "encode": {"symbols": {"update": {"stroke": {"value": "#555555"}, "strokeWidth": {"value": 1}, "size": {"signal": "indexof(['Calcite','Dolomite'], datum.value) >= 0 ? 42 : 85"}}}}}}
   }},
  {"data": {"values": [{"t": "D"}]}, "mark": {"type": "text", "align": "left", "baseline": "middle", "dx": 7, "fontSize": 13, "fontWeight": "bold", "color": "#111111"},
   "encoding": {"x": {"datum": "La", "type": "ordinal", "axis": null}, "y": {"datum": 0.00056, "type": "quantitative", "axis": null}, "text": {"field": "t"}}},
  {"data": {"values": [{"t": "n = 4"}]}, "mark": {"type": "text", "align": "left", "baseline": "middle", "dx": 7, "fontSize": 17, "color": "#222222"},
   "encoding": {"x": {"datum": "La", "type": "ordinal", "axis": null}, "y": {"datum": 0.00021, "type": "quantitative", "axis": null}, "text": {"field": "t"}}}
 ],
 "resolve": {"axis": {"x": "independent", "y": "independent"}}
}
]
}
